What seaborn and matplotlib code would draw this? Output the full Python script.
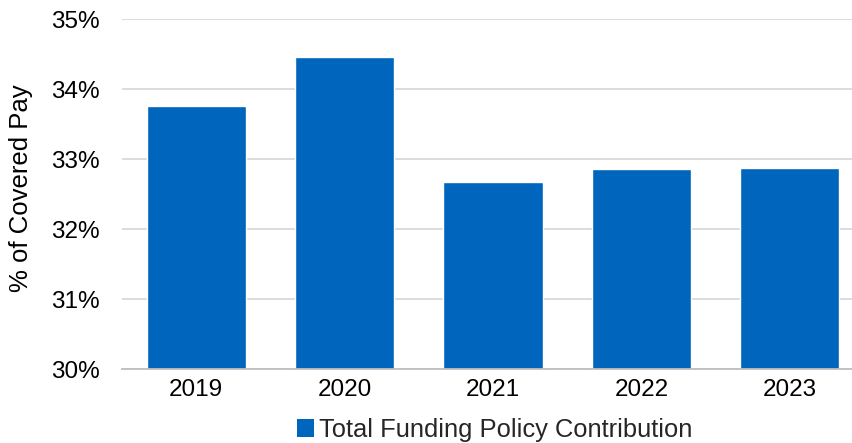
import matplotlib
matplotlib.use("Agg")
import matplotlib.pyplot as plt
import seaborn as sns
import pandas as pd
from matplotlib.ticker import FuncFormatter
from matplotlib.patches import Patch

years = ["2019", "2020", "2021", "2022", "2023"]
contribution = [33.76, 34.46, 32.67, 32.86, 32.87]
series_name = "Total Funding Policy Contribution"
y_ticks = [30, 31, 32, 33, 34, 35]

sns.set_theme(style="white")
plt.rcParams["font.family"] = ["Liberation Sans", "DejaVu Sans"]

df = pd.DataFrame({"Year": years, "Contribution": contribution})

W, H = 852, 443
fig = plt.figure(figsize=(W / 100, H / 100), dpi=100)
# plot area runs slightly past the right edge of the canvas
ax_left, ax_right, ax_top, ax_bottom = 122, 864, 19, 369
ax = fig.add_axes([ax_left / W, 1 - ax_bottom / H,
                   (ax_right - ax_left) / W, (ax_bottom - ax_top) / H])

bar_color = "#0066BD"
sns.barplot(data=df, x="Year", y="Contribution", color=bar_color,
            width=0.668, saturation=1, ax=ax, zorder=3)

ax.set_ylim(30, 35)
ax.set_yticks(y_ticks)
ax.yaxis.set_major_formatter(FuncFormatter(lambda v, p: f"{v:.0f}%"))
ax.grid(axis="y", color="#D9D9D9", linewidth=1.3, zorder=0)
ax.set_axisbelow(True)
for s in ["top", "right", "left"]:
    ax.spines[s].set_visible(False)
ax.spines["bottom"].set_color("#BFBFBF")
ax.spines["bottom"].set_linewidth(1.3)
ax.spines["bottom"].set_zorder(4)

ax.tick_params(axis="both", labelsize=17.5, colors="#000000", length=0)
ax.tick_params(axis="x", pad=7)
ax.tick_params(axis="y", pad=16)
ax.set_xlabel("")
ax.set_ylabel("% of Covered Pay", fontsize=18.5, color="#000000")
ax.yaxis.set_label_coords((33 - ax_left) / (ax_right - ax_left),
                          (ax_bottom - 188) / (ax_bottom - ax_top))

handle = Patch(facecolor=bar_color, edgecolor="none")
fig.legend([handle], [series_name], loc="center",
           bbox_to_anchor=(495 / W, 1 - 430 / H),
           frameon=False, fontsize=18.4, handlelength=0.65, handleheight=0.65,
           handletextpad=0.2, borderpad=0)

fig.savefig("out.png", dpi=100)
